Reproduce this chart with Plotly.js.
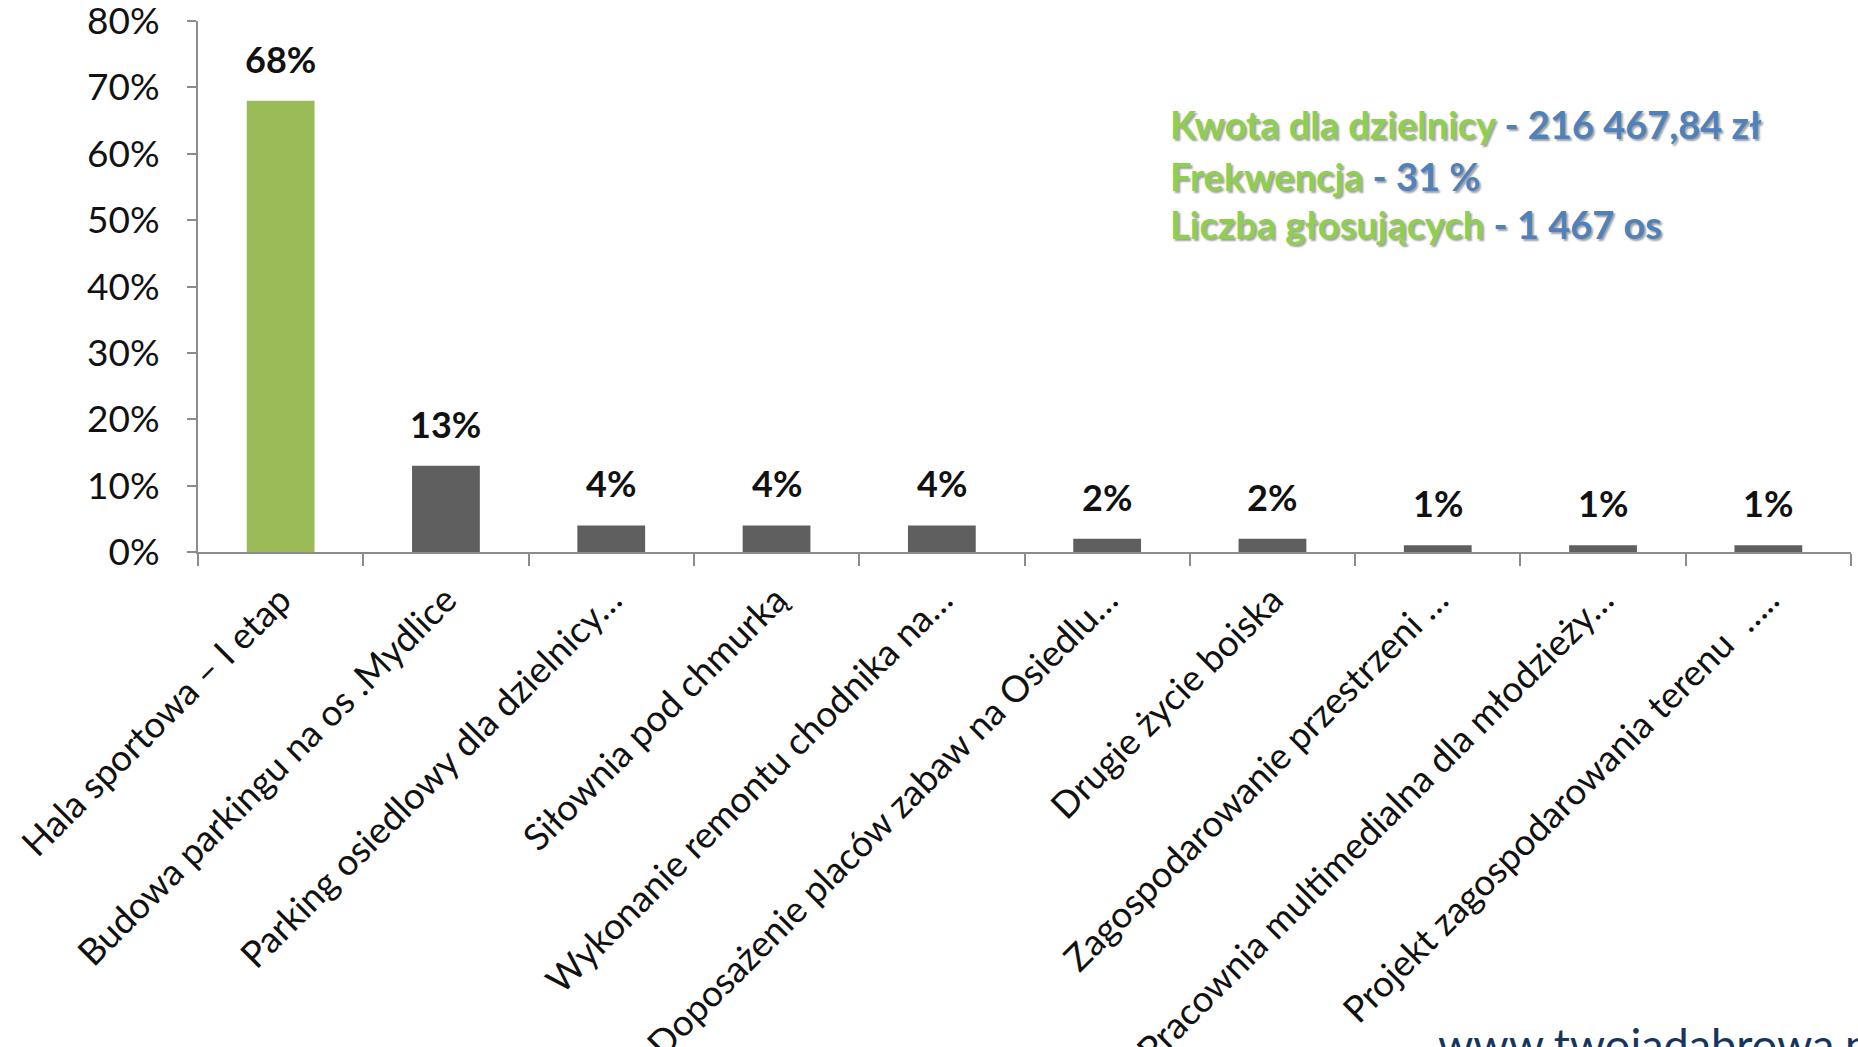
<!DOCTYPE html>
<html>
<head>
<meta charset="utf-8">
<script src="https://cdn.plot.ly/plotly-3.0.1.min.js"></script>
<style>html,body{margin:0;padding:0;background:#fff;}#chart{width:1858px;height:1047px;}</style>
</head>
<body>
<div id="chart"></div>
<script>
// ---- data ----
const categories = [
  "Hala sportowa – I etap",
  "Budowa parkingu na os .Mydlice",
  "Parking osiedlowy dla dzielnicy…",
  "Siłownia pod chmurką",
  "Wykonanie remontu chodnika na…",
  "Doposażenie placów zabaw na Osiedlu…",
  "Drugie życie boiska",
  "Zagospodarowanie przestrzeni …",
  "Pracownia multimedialna dla młodzieży…",
  "Projekt zagospodarowania terenu  ….."
];
const values = [68, 13, 4, 4, 4, 2, 2, 1, 1, 1];
const valueLabels = ["68%", "13%", "4%", "4%", "4%", "2%", "2%", "1%", "1%", "1%"];
const yTickVals = [0, 10, 20, 30, 40, 50, 60, 70, 80];
const yTickText = ["0%", "10%", "20%", "30%", "40%", "50%", "60%", "70%", "80%"];
const infoLabels = ["Kwota dla dzielnicy", "Frekwencja", "Liczba głosujących"];
const infoValues = ["- 216 467,84 zł", "- 31 %", "- 1 467 os"];
const watermark = "www.twojadabrowa.pl";

const FONT = "Lato, 'Open Sans', sans-serif";
const barColors = values.map((v, i) => i === 0 ? "#9BBB59" : "#5F5F5F");

const trace = {
  type: "bar",
  x: categories,
  y: values,
  marker: {color: barColors},
  hoverinfo: "none",
  cliponaxis: false
};

const annotations = [];
categories.forEach((c, i) => {
  annotations.push({
    x: c, y: values[i], xref: "x", yref: "y",
    text: "<b>" + valueLabels[i] + "</b>",
    showarrow: false, yanchor: "bottom", yshift: 18,
    font: {family: FONT, size: 36, color: "#111"}
  });
});
const infoY = [0.806, 0.708, 0.617];
infoLabels.forEach((t, i) => {
  annotations.push({
    xref: "paper", yref: "paper", x: 0.587, y: infoY[i],
    xanchor: "left", yanchor: "middle", showarrow: false,
    text: "<b><span style='color:#8DD04E'>" + t + "</span> <span style='color:#4F81BD'>" + infoValues[i] + "</span></b>",
    font: {family: FONT, size: 38, color: "#8DD04E", shadow: "2px 2px 2px #a0a0a0"}
  });
});
annotations.push({
  xref: "paper", yref: "paper", x: 0.749, y: -0.872,
  xanchor: "left", yanchor: "top", showarrow: false,
  text: watermark,
  font: {family: FONT, size: 45, color: "#17365D"}
});

const layout = {
  width: 1858, height: 1047,
  margin: {l: 198, r: 7, t: 21, b: 495},
  paper_bgcolor: "#fff", plot_bgcolor: "#fff",
  showlegend: false,
  bargap: 0.59,
  font: {family: FONT, color: "#111"},
  xaxis: {
    type: "category",
    showline: true, linecolor: "#8C8C8C", linewidth: 2,
    ticks: "outside", tickson: "boundaries", ticklen: 12, tickcolor: "#8C8C8C", tickwidth: 2,
    tickangle: -45, ticklabelstandoff: 10,
    tickfont: {family: FONT, size: 36.5, color: "#111"},
    showgrid: false, zeroline: false, fixedrange: true
  },
  yaxis: {
    range: [0, 80.02],
    tickvals: yTickVals, ticktext: yTickText,
    ticklabeloverflow: "allow",
    showline: true, linecolor: "#8C8C8C", linewidth: 2,
    ticks: "outside", ticklen: 9, tickcolor: "#8C8C8C", tickwidth: 2,
    ticklabelstandoff: 20,
    tickfont: {family: FONT, size: 37, color: "#111"},
    showgrid: false, zeroline: false, fixedrange: true
  },
  annotations: annotations
};

Plotly.newPlot("chart", [trace], layout, {displayModeBar: false, staticPlot: true});
</script>
</body>
</html>
